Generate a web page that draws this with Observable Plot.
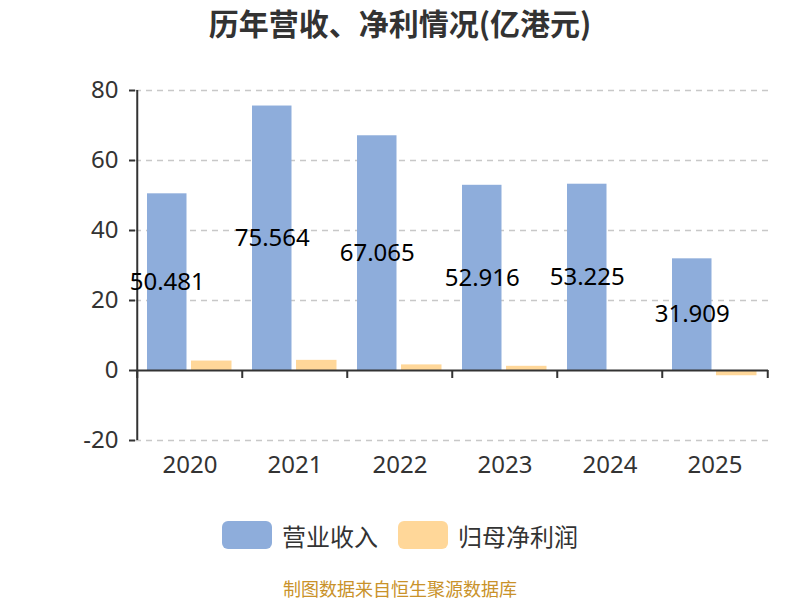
<!DOCTYPE html>
<html><head><meta charset="utf-8">
<script src="https://cdn.jsdelivr.net/npm/d3@7"></script>
<script src="https://cdn.jsdelivr.net/npm/@observablehq/plot@0.6"></script>
<style>
body{margin:0;background:#fff;font-family:"Noto Sans","Noto Sans CJK SC",sans-serif;}
#wrap{width:800px;height:600px;position:relative;overflow:hidden;}
#title{position:absolute;left:0;top:0;width:800px;height:44px;line-height:44px;text-align:center;font-size:30px;font-weight:bold;color:#333;font-family:"Noto Sans CJK SC","Noto Sans",sans-serif;}
#chart{position:absolute;left:0;top:56px;}
#legend{position:absolute;left:0;top:500px;width:800px;height:70px;display:flex;justify-content:center;align-items:center;font-size:24px;color:#333;font-family:"Noto Sans CJK SC",sans-serif;}
.item{display:flex;align-items:center;margin:0 10px;}
.sw{width:50px;height:28px;border-radius:6px;margin-right:10px;}
#footer{position:absolute;left:0;top:576px;width:800px;height:24px;line-height:24px;text-align:center;font-size:18px;color:#c9922a;font-family:"Noto Sans CJK SC",sans-serif;}
</style></head><body>
<div id="wrap">
<div id="title">历年营收、净利情况(亿港元)</div>
<div id="chart"></div>
<div id="legend"></div>
<div id="footer">制图数据来自恒生聚源数据库</div>
</div>
<script>
const years = ["2020","2021","2022","2023","2024","2025"];
const revenue = [50.481, 75.564, 67.065, 52.916, 53.225, 31.909];
const netProfit = [2.7, 2.9, 1.6, 1.2, -0.3, -1.5];
const yTicks = [-20, 0, 20, 40, 60, 80];
const seriesNames = ["营业收入", "归母净利润"];
const colors = ["#8eaddb", "#ffd799"];

const W = 800, H = 444, mL = 135, mR = 32, mT = 34, mB = 60;
const bw = (W - mL - mR) / years.length;
const pxPerUnit = (H - mT - mB) / 100;
const data = years.map((y, i) => ({year: y, rev: revenue[i], np: netProfit[i]}));
const font = '"Noto Sans","Noto Sans CJK SC",sans-serif';

const plot = Plot.plot({
  width: W, height: H,
  marginLeft: mL, marginRight: mR, marginTop: mT, marginBottom: mB,
  style: {fontFamily: font, fontSize: "24px", color: "#333", background: "#fff", overflow: "visible"},
  x: {type: "band", domain: years, padding: 0, label: null},
  y: {domain: [-20, 80], label: null},
  marks: [
    Plot.gridY(yTicks.filter(d => d !== 0), {stroke: "#c8c8c8", strokeOpacity: 1, strokeWidth: 1.5, strokeDasharray: "6,5"}),
    Plot.barY(data, {x: "year", y: "rev", fill: colors[0], insetLeft: 10, insetRight: bw - 50}),
    Plot.barY(data, {x: "year", y: "np", fill: colors[1], insetLeft: 54, insetRight: bw - 95}),
    Plot.ruleY([0], {stroke: "#333", strokeWidth: 2}),
    Plot.ruleX(years, {x: d => d, dx: -bw / 2, y1: 0, y2: -8 / pxPerUnit, stroke: "#333", strokeWidth: 2}),
    Plot.ruleX([years[years.length - 1]], {x: d => d, dx: bw / 2, y1: 0, y2: -8 / pxPerUnit, stroke: "#333", strokeWidth: 2}),
    Plot.ruleX([years[0]], {x: d => d, dx: -bw / 2, stroke: "#333", strokeWidth: 2}),
    Plot.axisY(yTicks, {tickSize: 6, tickPadding: 11, stroke: "#333", strokeWidth: 2, fontSize: 24, fill: "#333", tickFormat: d => String(d)}),
    Plot.axisX({tickSize: 0, tickPadding: 15, fontSize: 24, fill: "#333"}),
    Plot.text(data, {x: "year", y: d => d.rev / 2, text: d => d.rev.toFixed(3), dx: 30 - bw / 2, fill: "#000", fontSize: 24})
  ]
});
document.getElementById("chart").appendChild(plot);

const legend = document.getElementById("legend");
seriesNames.forEach((n, i) => {
  const it = document.createElement("div");
  it.className = "item";
  it.innerHTML = `<div class="sw" style="background:${colors[i]}"></div><span>${n}</span>`;
  legend.appendChild(it);
});
</script>
</body></html>
